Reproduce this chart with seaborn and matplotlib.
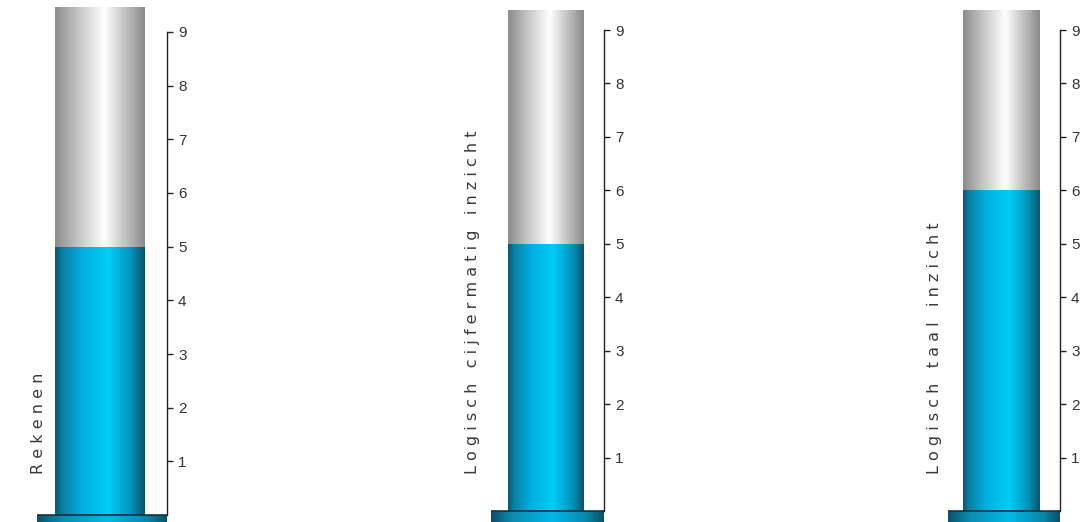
import numpy as np
import matplotlib
matplotlib.use("Agg")
import matplotlib.pyplot as plt
from matplotlib.colors import LinearSegmentedColormap
import seaborn as sns

# gegevens
subjects = ["Rekenen", "Logisch cijfermatig inzicht", "Logisch taal inzicht"]
scores = [5, 5, 6]
scale_max = 10
tick_values = [1, 2, 3, 4, 5, 6, 7, 8, 9]

sns.set_style("white")
plt.rcParams['font.family'] = ['Liberation Sans', 'DejaVu Sans']

W, H = 1080, 522
fig = plt.figure(figsize=(W / 100, H / 100), dpi=100)

# pixel layout per panel: base links, as (spine), buis links/rechts, y van 0, y van 9, top buis
layout = [
    dict(base_left=37, spine=167, tube=(55, 145), y0=515, y9=32, top=7, label_x=39),
    dict(base_left=491, spine=604, tube=(508, 584), y0=511, y9=30, top=10, label_x=473),
    dict(base_left=948, spine=1060, tube=(963, 1040), y0=511, y9=30, top=10, label_x=935),
]

blue_cmap = LinearSegmentedColormap.from_list("blue", [
    (0.0, "#0a5870"), (0.08, "#0a80a2"), (0.3, "#00afe0"),
    (0.6, "#00cdf7"), (0.85, "#0092ba"), (1.0, "#0a546c")])
gray_cmap = LinearSegmentedColormap.from_list("gray", [
    (0.0, "#8c8c8c"), (0.25, "#c4c4c4"), (0.55, "#ffffff"),
    (0.8, "#bdbdbd"), (1.0, "#8a8a8a")])
base_cmap = LinearSegmentedColormap.from_list("base", [
    (0.0, "#0a5268"), (0.2, "#0a8fb4"), (0.55, "#00b9e8"),
    (0.85, "#0a86a8"), (1.0, "#0a5066")])
grad = np.linspace(0, 1, 256).reshape(1, -1)


def spaced(s):
    return "   ".join(" ".join(w) for w in s.split(" "))


bar_w = 0.8
for subj, score, L in zip(subjects, scores, layout):
    ppu = (L["y0"] - L["y9"]) / 9.0
    y_bottom = -(H - L["y0"]) / ppu
    y_top = (L["y0"] - L["top"]) / ppu
    t0, t1 = L["tube"]
    unit = (t1 - t0) / bar_w
    tc = (t0 + t1) / 2
    x_left = -(tc - L["base_left"]) / unit
    x_right = (L["spine"] - tc) / unit

    ax = fig.add_axes([L["base_left"] / W, 0, (L["spine"] - L["base_left"]) / W, (H - L["top"]) / H])
    ax.patch.set_alpha(0)

    sns.barplot(x=[subj], y=[scale_max], color="#cccccc", width=bar_w, ax=ax, linewidth=0)
    sns.barplot(x=[subj], y=[score], color="#00b8e6", width=bar_w, ax=ax, linewidth=0)

    for patch, cmap in zip(ax.patches, [gray_cmap, blue_cmap]):
        x, w = patch.get_x(), patch.get_width()
        h = min(patch.get_height(), y_top)
        im = ax.imshow(grad, cmap=cmap, aspect="auto", extent=(x, x + w, 0, h), zorder=2)
        im.set_clip_path(patch)
        patch.set_zorder(1)

    # voetstuk
    ax.imshow(grad, cmap=base_cmap, aspect="auto", extent=(x_left, x_right, y_bottom, 0), zorder=2)
    ax.plot([x_left, x_right], [0, 0], color="#15323f", lw=1.2, zorder=3, solid_capstyle="butt")

    ax.set_xlim(x_left, x_right)
    ax.set_ylim(y_bottom, y_top)
    ax.set_xlabel("")
    ax.set_ylabel("")
    ax.set_xticks([])
    for side in ["top", "left", "bottom"]:
        ax.spines[side].set_visible(False)
    ax.spines["right"].set_bounds(0, 9)
    ax.spines["right"].set_color("#222222")
    ax.spines["right"].set_linewidth(1.0)
    ax.yaxis.tick_right()
    ax.set_yticks(tick_values)
    ax.set_yticklabels([str(v) for v in tick_values])
    ax.tick_params(axis="y", direction="out", length=4, width=1, color="#222222",
                   labelsize=11, labelcolor="#333333", pad=4, right=True, left=False)

    fig.text(L["label_x"] / W, 1 - 474 / H, spaced(subj), rotation=90, ha="center", va="bottom",
             fontsize=11.5, color="#3a3a3a", family=["DejaVu Sans"])

fig.savefig("out.png", dpi=100)
